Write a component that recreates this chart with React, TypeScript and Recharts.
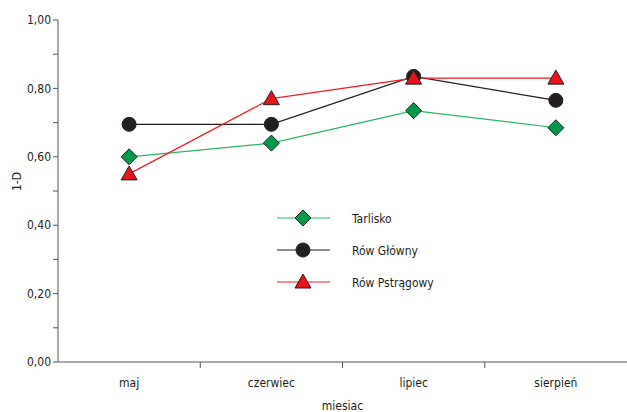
import { LineChart, Line, XAxis, YAxis } from 'recharts';

const months = ['maj', 'czerwiec', 'lipiec', 'sierpień'];
const tarlisko = [0.6, 0.64, 0.735, 0.685];
const rowGlowny = [0.695, 0.695, 0.835, 0.765];
const rowPstragowy = [0.55, 0.77, 0.83, 0.83];
const yTicks = [0, 0.1, 0.2, 0.3, 0.4, 0.5, 0.6, 0.7, 0.8, 0.9, 1];
const xTicks = [0.5, 1, 1.5, 2, 2.5, 3, 3.5];

const data = months.map((m, i) => ({
  pos: i + 0.5,
  month: m,
  tarlisko: tarlisko[i],
  glowny: rowGlowny[i],
  pstragowy: rowPstragowy[i],
}));

const FONT = '"DejaVu Sans Condensed", "Liberation Sans", Arial, sans-serif';
const AXIS = '#555';
const EDGE = '#231f20';

const series = [
  { key: 'tarlisko', name: 'Tarlisko', line: '#2bb563', fill: '#009a49', shape: 'diamond' },
  { key: 'glowny', name: 'Rów Główny', line: '#231f20', fill: '#231f20', shape: 'circle' },
  { key: 'pstragowy', name: 'Rów Pstrągowy', line: '#ed1c24', fill: '#e8141c', shape: 'triangle' },
];

function Marker({ cx, cy, shape, fill }: any) {
  if (cx == null || cy == null) return null;
  if (shape === 'diamond') {
    const r = 8;
    return (
      <polygon
        points={`${cx},${cy - r} ${cx + r},${cy} ${cx},${cy + r} ${cx - r},${cy}`}
        fill={fill}
        stroke={EDGE}
        strokeWidth={1}
      />
    );
  }
  if (shape === 'circle') {
    return <circle cx={cx} cy={cy} r={7} fill={fill} stroke={EDGE} strokeWidth={1} />;
  }
  return (
    <polygon
      points={`${cx},${cy - 8} ${cx + 8},${cy + 6} ${cx - 8},${cy + 6}`}
      fill={fill}
      stroke={EDGE}
      strokeWidth={1}
    />
  );
}

// integer positions get the boundary tick marks, half positions get the month names
function XTick({ x, y, payload }: any) {
  const v = payload.value;
  if (Number.isInteger(v)) {
    return <line x1={x} y1={y - 8} x2={x} y2={y - 2} stroke={AXIS} strokeWidth={1} />;
  }
  const label = months[Math.floor(v)];
  return (
    <text x={x} y={y + 17} textAnchor="middle" fontSize={12} fill="#231f20" fontFamily={FONT}>
      {label}
    </text>
  );
}

function LegendBox() {
  return (
    <svg width={200} height={100} style={{ position: 'absolute', left: 270, top: 205 }}>
      {series.map((s, i) => {
        const y = 13 + i * 32;
        return (
          <g key={s.key}>
            <line x1={7} y1={y} x2={60} y2={y} stroke={s.line} strokeWidth={1.2} />
            <Marker cx={33} cy={y} shape={s.shape} fill={s.fill} />
            <text x={82} y={y + 5} fontSize={12} fill="#231f20" fontFamily={FONT}>
              {s.name}
            </text>
          </g>
        );
      })}
    </svg>
  );
}

export default function App() {
  return (
    <div style={{ position: 'absolute', left: 0, top: 0, width: 627, height: 412, background: '#fff' }}>
      <LineChart width={627} height={412} data={data} margin={{ top: 20, right: 0, bottom: 0, left: 8 }}>
        <XAxis
          dataKey="pos"
          type="number"
          domain={[0, 4]}
          ticks={xTicks}
          interval={0}
          tick={<XTick />}
          tickLine={false}
          axisLine={{ stroke: AXIS }}
          height={50}
          label={{ value: 'miesiac', position: 'insideBottom', offset: 2, fontSize: 12, fill: '#231f20', fontFamily: FONT }}
        />
        <YAxis
          type="number"
          domain={[0, 1]}
          ticks={yTicks}
          interval={0}
          width={50}
          tickSize={5}
          tickLine={{ stroke: AXIS }}
          axisLine={{ stroke: AXIS }}
          tick={{ fontSize: 12, fill: '#231f20', fontFamily: FONT }}
          tickFormatter={(v: number) => (Math.round(v * 10) % 2 === 0 ? v.toFixed(2).replace('.', ',') : '')}
          label={{ value: '1-D', angle: -90, position: 'insideLeft', offset: 0, dx: 9, fontSize: 12, fill: '#231f20', fontFamily: FONT }}
        />
        {series.map((s) => (
          <Line
            key={s.key}
            type="linear"
            dataKey={s.key}
            name={s.name}
            stroke={s.line}
            strokeWidth={1.2}
            isAnimationActive={false}
            dot={(p: any) => <Marker key={`${s.key}-${p.index}`} cx={p.cx} cy={p.cy} shape={s.shape} fill={s.fill} />}
            activeDot={false}
          />
        ))}
      </LineChart>
      <LegendBox />
    </div>
  );
}
